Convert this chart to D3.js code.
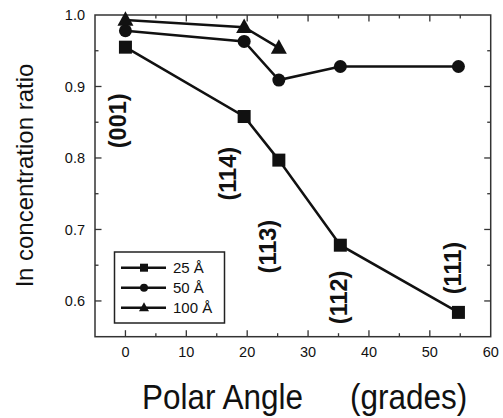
<!DOCTYPE html>
<html>
<head>
<meta charset="utf-8">
<script src="https://cdn.jsdelivr.net/npm/d3@7"></script>
<style>
  body { margin: 0; background: #fff; }
  svg { display: block; font-family: "Liberation Sans", Arial, sans-serif; }
</style>
</head>
<body>
<svg id="chart" width="503" height="418"></svg>
<script>
// polar angles of the crystal directions (degrees)
const angles = [0, 19.5, 25.2, 35.3, 54.7];
const series = [
  { label: "25 Å",  shape: "square",   values: [0.955, 0.858, 0.797, 0.678, 0.584] },
  { label: "50 Å",  shape: "circle",   values: [0.978, 0.963, 0.909, 0.928, 0.928] },
  { label: "100 Å", shape: "triangle", values: [0.993, 0.983, 0.954] }
];
const directions = ["(001)", "(114)", "(113)", "(112)", "(111)"];
// where the rotated direction labels sit, in data units
const dirX = [-1.2, 16.9, 23.4, 35.1, 53.8];
const dirY = [0.852, 0.778, 0.676, 0.605, 0.646];
const xTicks = [0, 10, 20, 30, 40, 50, 60];
const yTicks = [0.6, 0.7, 0.8, 0.9, 1.0];

const svg = d3.select("#chart");
const margin = { top: 15, right: 12.3, bottom: 81.3, left: 95 };
const W = 503, H = 418;

const x = d3.scaleLinear().domain([-5, 60]).range([margin.left, W - margin.right]);
const y = d3.scaleLinear().domain([0.55, 1.0]).range([H - margin.bottom, margin.top]);

const ink = "#111";

// frame
svg.append("rect")
  .attr("x", x(-5)).attr("y", y(1.0))
  .attr("width", x(60) - x(-5)).attr("height", y(0.55) - y(1.0))
  .attr("fill", "none").attr("stroke", "#333").attr("stroke-width", 1.5);

// ticks: inward, major + minor on all four sides
const xMinor = d3.range(5, 60, 10);
const yMinor = [0.65, 0.75, 0.85, 0.95];
function xTickMarks(vals, len) {
  [y(0.55), y(1.0)].forEach((yy, i) => {
    svg.append("g").selectAll("line").data(vals).join("line")
      .attr("x1", d => x(d)).attr("x2", d => x(d))
      .attr("y1", yy).attr("y2", i === 0 ? yy - len : yy + len)
      .attr("stroke", "#333").attr("stroke-width", 1.3);
  });
}
function yTickMarks(vals, len) {
  [x(-5), x(60)].forEach((xx, i) => {
    svg.append("g").selectAll("line").data(vals).join("line")
      .attr("y1", d => y(d)).attr("y2", d => y(d))
      .attr("x1", xx).attr("x2", i === 0 ? xx + len : xx - len)
      .attr("stroke", "#333").attr("stroke-width", 1.3);
  });
}
xTickMarks(xTicks.filter(d => d < 60), 6.5);
xTickMarks(xMinor, 3.5);
yTickMarks(yTicks.filter(d => d < 1.0), 6.5);
yTickMarks(yMinor, 3.5);

// tick labels
svg.append("g").selectAll("text").data(xTicks).join("text")
  .attr("x", d => x(d)).attr("y", 357)
  .attr("text-anchor", "middle")
  .attr("font-size", 14.5).attr("fill", ink)
  .text(d => d);
svg.append("g").selectAll("text").data(yTicks).join("text")
  .attr("x", 85).attr("y", d => y(d))
  .attr("text-anchor", "end").attr("dy", "0.36em")
  .attr("font-size", 14.5).attr("fill", ink)
  .text(d => d3.format(".1f")(d));

// axis titles
svg.append("text")
  .attr("transform", "translate(33,175) rotate(-90)")
  .attr("text-anchor", "middle")
  .attr("font-size", 24).attr("fill", ink)
  .text("ln concentration ratio");
svg.append("text")
  .attr("transform", "translate(142,409) scale(1,1.12)")
  .attr("font-size", 31.5).attr("fill", ink)
  .text("Polar Angle");
svg.append("text")
  .attr("transform", "translate(350,409) scale(1,1.12)")
  .attr("font-size", 31.5).attr("fill", ink)
  .text("(grades)");

// direction labels
svg.append("g").selectAll("text").data(directions).join("text")
  .attr("transform", (d, i) => `translate(${x(dirX[i])},${y(dirY[i])}) rotate(-90)`)
  .attr("text-anchor", "middle").attr("dominant-baseline", "central")
  .attr("font-size", 23.5).attr("font-weight", "bold").attr("fill", ink)
  .text(d => d);

// markers
function marker(g, shape, cx, cy, s) {
  if (shape === "square") {
    g.append("rect").attr("x", cx - s / 2).attr("y", cy - s / 2)
      .attr("width", s).attr("height", s).attr("fill", ink);
  } else if (shape === "circle") {
    g.append("circle").attr("cx", cx).attr("cy", cy).attr("r", s / 2).attr("fill", ink);
  } else {
    const h = s * 0.9;
    g.append("path")
      .attr("d", `M${cx},${cy - h * 0.6}L${cx + s / 2},${cy + h * 0.4}L${cx - s / 2},${cy + h * 0.4}Z`)
      .attr("fill", ink);
  }
}

const line = d3.line().x(d => x(d[0])).y(d => y(d[1]));
series.forEach(s => {
  const pts = s.values.map((v, i) => [angles[i], v]);
  svg.append("path").datum(pts)
    .attr("d", line)
    .attr("fill", "none").attr("stroke", ink).attr("stroke-width", 2.5);
  const g = svg.append("g");
  const size = s.shape === "triangle" ? 16 : 13;
  pts.forEach(p => marker(g, s.shape, x(p[0]), y(p[1]), size));
});

// legend
const lg = svg.append("g");
lg.append("rect")
  .attr("x", 114.5).attr("y", 252).attr("width", 110).attr("height", 71)
  .attr("fill", "#fff").attr("stroke", "#222").attr("stroke-width", 1.5);
series.forEach((s, i) => {
  const ly = 267.7 + i * 20;
  lg.append("line").attr("x1", 121).attr("x2", 166).attr("y1", ly).attr("y2", ly)
    .attr("stroke", ink).attr("stroke-width", 2.5);
  marker(lg, s.shape, 144, ly, s.shape === "triangle" ? 10 : 8);
  lg.append("text").attr("x", 173).attr("y", ly).attr("dy", "0.36em")
    .attr("font-size", 15).attr("fill", ink).text(s.label);
});
</script>
</body>
</html>
